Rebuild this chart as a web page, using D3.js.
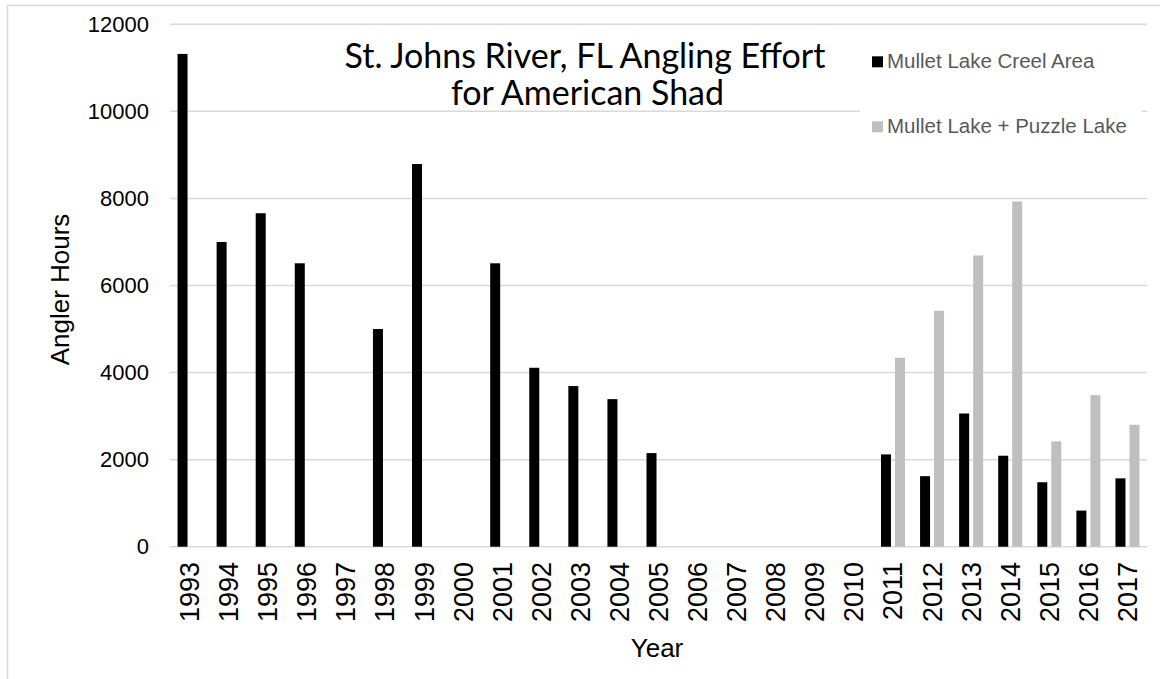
<!DOCTYPE html>
<html>
<head>
<meta charset="utf-8">
<script src="https://cdn.jsdelivr.net/npm/d3@7"></script>
<style>
  body { margin: 0; background: #fff; }
  svg { display: block; }
</style>
</head>
<body>
<svg id="chart" width="1160" height="679"></svg>
<script>
var years = ["1993","1994","1995","1996","1997","1998","1999","2000","2001","2002","2003","2004","2005",
	"2006","2007","2008","2009","2010","2011","2012","2013","2014","2015","2016","2017"];
var seriesNames = ["Mullet Lake Creel Area", "Mullet Lake + Puzzle Lake"];
// null = no bar that year
var mulletLake = [11320, 7000, 7660, 6510, null, 5000, 8790, null, 6510, 4110, 3690, 3390, 2150,
	null, null, null, null, null, 2120, 1620, 3060, 2090, 1480, 830, 1570];
var mulletPuzzle = [null, null, null, null, null, null, null, null, null, null, null, null, null,
	null, null, null, null, null, 4340, 5420, 6690, 7930, 2420, 3480, 2800];
var yTicks = [0, 2000, 4000, 6000, 8000, 10000, 12000];
var colors = ["#000000", "#bfbfbf"];

var svg = d3.select("#chart");
var plotLeft = 170, plotRight = 1147, plotTop = 24.3, plotBottom = 546.7;

// outer chart border
svg.append("rect")
	.attr("x", 7.5).attr("y", 5.5)
	.attr("width", 1200).attr("height", 700)
	.style("fill", "none")
	.style("stroke", "#d9d9d9")
	.style("stroke-width", 1.5);

var x0 = d3.scaleBand().domain(years).range([plotLeft, plotRight]).padding(0);
var groupW = 24;
var x1 = d3.scaleBand().domain(seriesNames).range([0, groupW]).paddingInner(4 / 14).paddingOuter(0);
var y = d3.scaleLinear().domain([0, 12000]).range([plotBottom, plotTop]);

// gridlines
svg.append("g")
	.selectAll("line")
	.data(yTicks)
	.enter()
	.append("line")
	.attr("x1", plotLeft).attr("x2", plotRight)
	.attr("y1", function (d) { return y(d); })
	.attr("y2", function (d) { return y(d); })
	.style("stroke", "#d9d9d9")
	.style("stroke-width", 1.5);

// y axis labels
var yAxis = d3.axisLeft(y).tickValues(yTicks).tickSize(0).tickPadding(0).tickFormat(d3.format("d"));
var yg = svg.append("g").attr("transform", "translate(149,0)").call(yAxis);
yg.select(".domain").remove();
yg.selectAll("text")
	.style("font-family", "'Liberation Sans', Arial, sans-serif")
	.style("font-size", "22px")
	.style("fill", "#000");

// x axis labels (rotated)
svg.append("g")
	.selectAll("text")
	.data(years)
	.enter()
	.append("text")
	.attr("transform", function (d) {
		return "translate(" + (x0(d) + x0.bandwidth() / 2 + 9.5) + ",562) rotate(-90)";
	})
	.attr("text-anchor", "end")
	.style("font-family", "'Liberation Sans', Arial, sans-serif")
	.style("font-size", "27px")
	.style("fill", "#000")
	.text(function (d) { return d; });

// bars
var seriesData = [mulletLake, mulletPuzzle];
seriesData.forEach(function (vals, si) {
	svg.append("g")
		.selectAll("rect")
		.data(years.map(function (yr, i) { return { year: yr, value: vals[i] }; })
			.filter(function (d) { return d.value != null; }))
		.enter()
		.append("rect")
		.attr("x", function (d) {
			return x0(d.year) + (x0.bandwidth() - groupW) / 2 + x1(seriesNames[si]);
		})
		.attr("width", x1.bandwidth())
		.attr("y", function (d) { return y(d.value); })
		.attr("height", function (d) { return y(0) - y(d.value); })
		.style("fill", colors[si]);
});

// legend
var legend = svg.append("g");
legend.append("rect")
	.attr("x", 860).attr("y", 32)
	.attr("width", 282).attr("height", 150)
	.style("fill", "#fff");
var legendY = [68.3, 133.3];
seriesNames.forEach(function (name, i) {
	legend.append("rect")
		.attr("x", 872).attr("y", legendY[i] - 12)
		.attr("width", 11).attr("height", 11)
		.style("fill", colors[i]);
	legend.append("text")
		.attr("x", 887).attr("y", legendY[i])
		.style("font-family", "'Liberation Sans', Arial, sans-serif")
		.style("font-size", "20.5px")
		.style("fill", "#595959")
		.text(name);
});

// title
var titleFont = "Lato, 'Open Sans', sans-serif";
svg.append("text")
	.attr("x", 585).attr("y", 67.5)
	.attr("text-anchor", "middle")
	.style("font-family", titleFont)
	.style("font-size", "34px")
	.style("fill", "#000")
	.text("St. Johns River, FL Angling Effort");
svg.append("text")
	.attr("x", 587.5).attr("y", 105)
	.attr("text-anchor", "middle")
	.style("font-family", titleFont)
	.style("font-size", "34px")
	.style("fill", "#000")
	.text("for American Shad");

// axis titles
svg.append("text")
	.attr("transform", "translate(69," + ((plotTop + plotBottom) / 2 + 4) + ") rotate(-90)")
	.attr("text-anchor", "middle")
	.style("font-family", "'Liberation Sans', Arial, sans-serif")
	.style("font-size", "26px")
	.style("fill", "#000")
	.text("Angler Hours");
svg.append("text")
	.attr("x", 657).attr("y", 657)
	.attr("text-anchor", "middle")
	.style("font-family", "'Liberation Sans', Arial, sans-serif")
	.style("font-size", "26px")
	.style("fill", "#000")
	.text("Year");
</script>
</body>
</html>
